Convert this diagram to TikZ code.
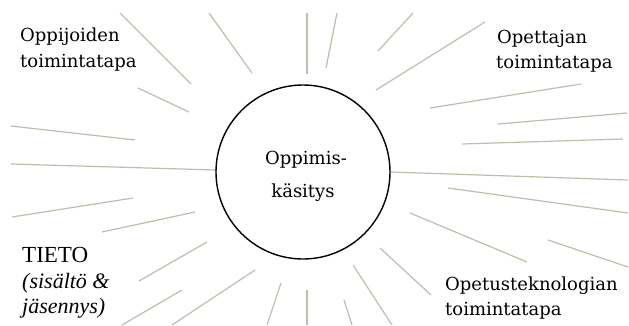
\documentclass[tikz,border=0pt]{standalone}
\usepackage{fontspec}
\newfontfamily\labfont{DejaVu Serif}
\newfontfamily\tietofont{Liberation Serif}
\definecolor{raycol}{RGB}{190,190,172}
\begin{document}
\begin{tikzpicture}[x=1pt,y=-1pt,
  ray/.style={draw=raycol,line width=1.2pt},
  lab/.style={anchor=base west,inner sep=0pt,font=\labfont\fontsize{18}{20}\selectfont},
  clab/.style={anchor=base,inner sep=0pt,font=\labfont\fontsize{18}{20}\selectfont},
  tlab/.style={anchor=base west,inner sep=0pt,font=\tietofont\fontsize{23}{25}\selectfont},
  tilab/.style={anchor=base west,inner sep=0pt,font=\tietofont\itshape\fontsize{22}{24}\selectfont}]
\useasboundingbox (0,0) rectangle (629,325);
\fill[white] (0,0) rectangle (629,325);
% rays
\draw[ray] (120,13) -- (191,84);
\draw[ray] (209,13) -- (252,73);
\draw[ray] (307,13) -- (307,74);
\draw[ray] (337,13) -- (326,68);
\draw[ray] (413,13) -- (378,51);
\draw[ray] (485,22) -- (376,90);
\draw[ray] (581,84) -- (430,108);
\draw[ray] (627,113) -- (498,124);
\draw[ray] (623,139) -- (462,144);
\draw[ray] (391,172) -- (628,180);
\draw[ray] (448,188) -- (628,213);
\draw[ray] (410,213) -- (527,262);
\draw[ray] (548,240) -- (628,267);
\draw[ray] (380,248) -- (431,295);
\draw[ray] (353,265) -- (392,325);
\draw[ray] (344,300) -- (352,325);
\draw[ray] (307,290) -- (307,325);
\draw[ray] (281,283) -- (267,325);
\draw[ray] (255,270) -- (172,325);
\draw[ray] (182,290) -- (122,325);
\draw[ray] (207,242) -- (139,281);
\draw[ray] (195,212) -- (102,232);
\draw[ray] (133,198) -- (12,217);
\draw[ray] (11,164) -- (216,170);
\draw[ray] (11,126) -- (135,140);
\draw[ray] (138,88) -- (189,112);
% circle
\node[draw=black,line width=1.4pt,circle,minimum size=174pt,inner sep=0pt] (c) at (303,172) {};
\node[clab] (c1) at (306,164) {Oppimis-};
\node[clab] (c2) at (303,197) {käsitys};
% labels
\node[lab] (a1) at (20,41) {Oppijoiden};
\node[lab] (a2) at (20,67) {toimintatapa};
\node[lab] (b1) at (497,43) {Opettajan};
\node[lab] (b2) at (496,68) {toimintatapa};
\node[lab] (d1) at (445,290) {Opetusteknologian};
\node[lab] (d2) at (445,315) {toimintatapa};
\node[tlab] (t1) at (22,262) {TIETO};
\node[tilab] (t2) at (22,288) {(sisältö \&};
\node[tilab] (t3) at (22,313) {jäsennys)};
\end{tikzpicture}
\end{document}
